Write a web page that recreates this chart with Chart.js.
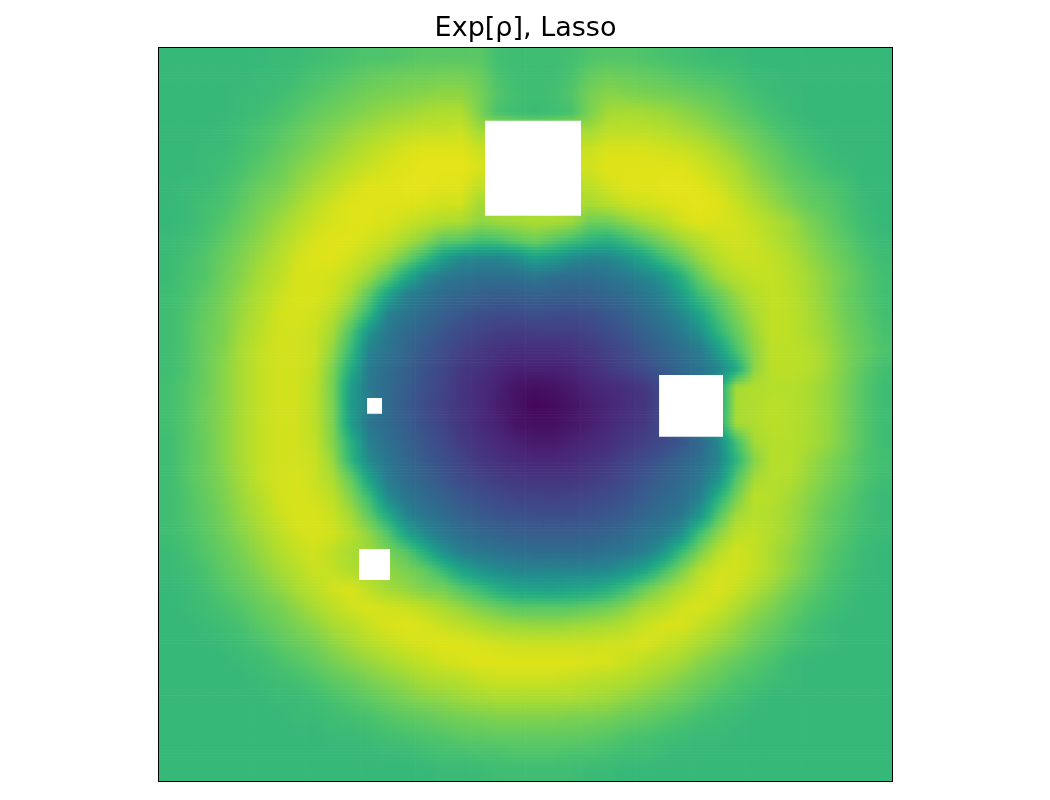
<!DOCTYPE html>
<html><head><meta charset="utf-8">
<script src="https://cdn.jsdelivr.net/npm/chart.js@4/dist/chart.umd.min.js"></script>
<style>html,body{margin:0;padding:0;background:#fff;}canvas{display:block;}</style>
</head><body>
<canvas id="c" width="1050" height="800"></canvas>
<script>
// Heat values (percent of colour range), one array per row, top row first, 40 columns each
const row0  = [67,67,67,67,67,67,68,68,69,70,71,72,72,73,74,74,74,74,70,69,69,69,70,72,73,73,72,71,70,69,68,68,67,67,67,67,67,67,67,67];
const row1  = [67,67,67,67,67,68,68,69,71,72,74,76,77,78,78,79,79,77,71,69,69,69,71,76,78,77,76,75,73,72,71,70,68,68,67,67,67,67,67,67];
const row2  = [67,67,67,67,68,68,69,71,73,75,77,79,80,81,82,83,83,79,73,70,69,70,73,79,82,81,80,79,78,76,75,72,70,68,68,67,67,67,67,67];
const row3  = [67,67,67,67,68,69,71,73,76,78,80,82,84,85,87,88,88,80,71,69,68,69,71,80,86,87,86,85,83,81,78,75,72,70,68,67,67,67,67,67];
const row4  = [67,67,67,68,69,71,73,76,79,81,84,86,88,90,91,91,92,86,88,86,85,86,88,86,90,90,90,89,87,85,82,79,76,72,70,68,67,67,67,67];
const row5  = [67,67,68,68,70,72,75,78,81,84,87,90,92,94,95,95,95,92,92,92,92,92,92,92,94,94,94,93,92,90,87,83,79,76,72,70,68,67,67,67];
const row6  = [67,67,68,69,71,74,77,81,84,87,90,92,94,95,96,96,96,94,94,94,94,94,94,93,95,95,95,95,95,93,90,87,82,78,74,72,69,68,67,67];
const row7  = [67,68,68,70,73,77,79,83,87,90,93,95,95,96,96,95,95,91,90,90,90,90,90,90,93,95,95,96,96,95,93,89,85,81,77,74,72,70,67,67];
const row8  = [67,68,70,71,75,79,82,86,90,93,95,95,95,95,94,93,93,86,88,88,88,88,88,87,89,92,93,94,95,96,95,92,88,84,80,76,74,71,68,67];
const row9  = [67,68,70,73,77,81,85,89,92,94,95,95,94,92,90,88,87,83,85,86,87,87,85,78,78,82,86,89,93,95,94,93,91,88,85,80,76,72,69,67];
const row10 = [68,69,71,75,79,83,87,91,94,95,95,93,91,87,82,75,74,70,71,75,78,74,70,65,63,68,74,80,85,89,92,93,92,89,86,82,78,74,70,68];
const row11 = [68,70,73,77,81,85,89,93,95,95,93,90,85,77,67,55,47,45,45,48,55,53,47,44,45,51,58,68,76,84,89,92,92,91,88,84,80,76,72,69];
const row12 = [68,71,73,78,82,87,90,94,94,93,90,84,74,60,47,40,38,36,36,36,39,36,35,35,38,41,45,51,63,76,85,89,91,91,89,86,82,78,73,70];
const row13 = [69,71,75,79,84,88,92,94,94,92,86,74,57,43,38,34,32,30,29,29,30,30,29,30,32,35,39,45,55,68,76,84,89,91,90,86,82,77,73,70];
const row14 = [69,72,76,80,85,89,93,94,93,89,80,66,44,39,34,30,27,24,23,23,24,23,23,24,27,30,35,40,47,58,71,80,87,91,90,87,83,78,74,70];
const row15 = [69,72,77,80,86,90,93,93,92,86,72,51,40,34,30,26,22,20,18,17,18,18,18,20,23,26,31,35,41,50,65,76,85,91,90,87,84,79,75,71];
const row16 = [69,72,77,81,87,91,93,93,92,83,67,44,38,32,27,23,19,16,14,13,13,13,14,16,19,22,27,31,36,41,54,71,83,90,90,89,85,80,76,72];
const row17 = [69,72,77,82,87,91,93,93,91,80,61,41,35,30,25,21,16,14,11,9,9,9,10,13,16,20,23,28,33,38,45,60,83,90,90,89,85,80,74,70];
const row18 = [70,73,77,82,87,91,93,93,90,79,55,40,34,29,24,20,15,12,9,5,4,5,7,10,12,13,16,22,26,36,57,86,88,89,89,87,84,79,73,69];
const row19 = [70,73,78,82,87,91,93,93,90,80,54,43,34,28,23,19,15,12,8,5,1,3,5,8,10,13,15,22,31,43,57,87,88,90,89,87,84,79,73,69];
const row20 = [70,73,78,82,87,91,93,93,90,80,55,39,34,29,24,20,15,12,9,5,4,4,6,8,11,14,16,23,33,45,60,86,88,90,89,87,84,79,73,69];
const row21 = [69,73,77,82,87,91,93,93,91,81,63,43,36,31,26,22,17,14,11,9,7,7,9,11,13,16,19,22,26,33,45,70,86,89,89,87,84,79,73,69];
const row22 = [69,73,77,82,87,91,93,93,92,84,65,47,39,33,28,24,20,16,14,12,11,11,12,14,16,20,23,27,32,36,45,65,82,89,89,85,81,77,72,70];
const row23 = [69,73,77,81,86,91,93,94,92,87,76,57,41,35,31,27,22,20,17,16,15,15,15,17,19,22,26,30,34,39,50,73,86,89,88,84,80,76,72,69];
const row24 = [69,72,76,80,85,89,93,94,93,90,81,68,48,39,34,31,27,24,22,20,20,19,20,21,23,25,29,33,36,43,63,79,90,89,86,82,78,74,70,68];
const row25 = [69,72,75,79,84,88,92,94,94,92,86,75,61,45,39,35,31,28,26,25,24,24,24,25,27,29,33,36,40,53,73,86,89,88,85,81,76,73,70,68];
const row26 = [69,71,74,78,82,86,90,93,94,93,89,83,73,58,47,40,36,33,31,30,29,29,29,30,31,34,38,41,50,70,82,90,91,88,85,80,76,72,69,68];
const row27 = [68,70,73,76,80,84,88,91,93,90,87,85,80,74,63,51,43,40,38,36,35,35,35,35,38,39,43,53,68,80,89,93,91,87,83,79,74,71,68,67];
const row28 = [68,69,71,75,78,82,86,89,92,91,88,87,83,80,76,68,58,52,48,46,45,46,45,46,47,52,59,70,80,89,93,93,91,87,83,78,73,70,68,67];
const row29 = [67,68,70,73,76,79,83,87,90,93,94,90,86,84,80,79,73,68,62,58,57,56,58,59,63,69,77,83,88,92,94,92,88,84,79,75,71,69,67,67];
const row30 = [67,68,69,71,73,77,79,83,87,90,93,94,93,92,90,87,84,80,77,74,74,74,74,76,78,82,87,89,93,94,92,88,84,80,76,72,70,68,67,67];
const row31 = [67,67,68,69,71,74,77,80,83,87,89,92,94,95,94,92,90,88,86,85,84,84,85,86,87,89,92,94,94,91,88,84,80,77,73,70,68,67,67,67];
const row32 = [67,67,67,68,69,71,74,77,79,83,86,89,91,93,94,95,95,94,93,92,92,92,92,92,93,93,94,92,90,87,84,81,77,74,71,69,68,67,67,67];
const row33 = [67,67,67,67,68,69,71,73,76,79,82,84,87,89,91,93,94,95,95,95,95,95,95,94,94,92,90,88,86,82,79,76,73,71,68,67,67,67,67,67];
const row34 = [67,67,67,67,67,68,69,70,72,75,77,80,82,84,87,88,89,91,92,92,92,92,91,90,89,88,86,84,81,78,76,72,71,69,68,67,67,67,67,67];
const row35 = [67,67,67,67,67,67,68,68,69,71,73,75,78,80,82,83,85,86,87,87,87,87,87,86,85,83,81,79,77,74,71,70,68,67,67,67,67,67,67,67];
const row36 = [67,67,67,67,67,67,67,68,68,69,70,71,73,75,76,78,79,80,81,81,81,81,80,80,79,77,76,74,72,70,69,68,67,67,67,67,67,67,67,67];
const row37 = [67,67,67,67,67,67,67,67,67,68,68,69,70,71,72,73,75,75,76,76,76,76,76,75,74,72,71,70,69,68,68,67,67,67,67,67,67,67,67,67];
const row38 = [67,67,67,67,67,67,67,67,67,67,67,67,68,68,69,70,70,71,71,72,72,72,71,71,70,69,69,68,67,67,67,67,67,67,67,67,67,67,67,67];
const row39 = [67,67,67,67,67,67,67,67,67,67,67,67,67,67,67,68,68,68,69,69,69,69,69,68,68,67,67,67,67,67,67,67,67,67,67,67,67,67,67,67];

const heatRows = [row0,row1,row2,row3,row4,row5,row6,row7,row8,row9,row10,row11,row12,row13,row14,row15,row16,row17,row18,row19,
                  row20,row21,row22,row23,row24,row25,row26,row27,row28,row29,row30,row31,row32,row33,row34,row35,row36,row37,row38,row39];
const colLabels = row0.map((_, i) => String(i));

// Masked (empty) regions, in cell units: left, right, top, bottom
const maskLeft   = [17.79, 27.29, 11.35, 10.91];
const maskRight  = [23.03, 30.78, 12.17, 12.61];
const maskTop    = [3.97, 17.84, 19.10, 27.34];
const maskBottom = [9.15, 21.21, 19.96, 29.03];

const titleText = 'Exp[\u03C1], Lasso';

// ---- rendering helpers (styling only) ----
const NROWS = heatRows.length, NCOLS = row0.length;
const SUB = 6;                       // bilinear shading: strips drawn per data row
const STOPS = [0, 0.25, 0.5, 0.75, 1];

const VIR = [
  [0.000,68,1,84],[0.100,72,37,118],[0.111,72,40,120],[0.125,71,45,123],[0.200,65,68,135],[0.222,62,74,137],
  [0.250,59,82,139],[0.300,53,96,141],[0.333,49,104,142],[0.375,44,114,142],[0.400,42,120,142],[0.444,38,130,142],
  [0.500,33,145,140],[0.556,31,158,137],[0.600,34,168,132],[0.625,40,174,128],[0.667,53,183,121],[0.700,67,191,113],
  [0.750,94,201,98],[0.778,109,205,89],[0.800,122,209,81],[0.875,173,220,48],[0.889,180,222,44],[0.900,187,223,39],
  [0.950,223,227,24],[1.000,253,231,37]
];
function viridis(t) {
  t = Math.max(0, Math.min(1, t));
  for (let k = 1; k < VIR.length; k++) {
    if (t <= VIR[k][0]) {
      const a = VIR[k-1], b = VIR[k];
      const f = (t - a[0]) / (b[0] - a[0]);
      const c = [1,2,3].map(q => Math.round(a[q] + (b[q] - a[q]) * f));
      return 'rgb(' + c.join(',') + ')';
    }
  }
  return 'rgb(253,231,37)';
}
// bilinear shading between cell centres (display only, like imshow interpolation='bilinear')
function shadeAt(x, y) {
  const fx = Math.min(Math.max(x - 0.5, 0), NCOLS - 1);
  const fy = Math.min(Math.max(y - 0.5, 0), NROWS - 1);
  const i0 = Math.floor(fx), j0 = Math.floor(fy);
  const i1 = Math.min(i0 + 1, NCOLS - 1), j1 = Math.min(j0 + 1, NROWS - 1);
  const tx = fx - i0, ty = fy - j0;
  const top = heatRows[j0][i0] * (1 - tx) + heatRows[j0][i1] * tx;
  const bot = heatRows[j1][i0] * (1 - tx) + heatRows[j1][i1] * tx;
  return top * (1 - ty) + bot * ty;
}
function cellFill(chart, i, yc) {
  const sx = chart.scales.xm;
  if (!sx || !chart.chartArea) return viridis(shadeAt(i + 0.5, yc) / 100);
  const p0 = sx.getPixelForValue(i), p1 = sx.getPixelForValue(i + 1);
  const g = chart.ctx.createLinearGradient(p0, 0, p1, 0);
  STOPS.forEach(f => g.addColorStop(f, viridis(shadeAt(i + f, yc) / 100)));
  return g;
}

const heatSets = [];
heatRows.forEach((vals, j) => {
  for (let s = 0; s < SUB; s++) {
    const y0 = j + s / SUB, y1 = j + (s + 1) / SUB, yc = (y0 + y1) / 2;
    heatSets.push({
      type: 'bar',
      data: vals.map(() => [y0, y1]),
      backgroundColor: (ctx) => cellFill(ctx.chart, ctx.dataIndex, yc),
      borderWidth: 0,
      grouped: false,
      barPercentage: 1,
      categoryPercentage: 1,
      order: 1
    });
  }
});

const maskSets = maskLeft.map((x0, k) => ({
  type: 'line',
  xAxisID: 'xm',
  yAxisID: 'y',
  data: [{x: x0, y: maskTop[k]}, {x: maskRight[k], y: maskTop[k]}],
  fill: {value: maskBottom[k]},
  backgroundColor: '#ffffff',
  borderColor: '#ffffff',
  borderWidth: 0,
  pointRadius: 0,
  order: -1
}));

const framePlugin = {
  id: 'frame',
  afterDraw(chart) {
    const {ctx, chartArea: a} = chart;
    ctx.save();
    ctx.strokeStyle = '#000';
    ctx.lineWidth = 1;
    ctx.strokeRect(a.left - 0.5, a.top - 0.5, a.right - a.left + 1, a.bottom - a.top + 1);
    ctx.restore();
  }
};

new Chart(document.getElementById('c'), {
  type: 'bar',
  data: { labels: colLabels, datasets: [...maskSets, ...heatSets] },
  options: {
    responsive: false,
    animation: false,
    devicePixelRatio: 1,
    events: [],
    layout: { padding: { left: 159, right: 158, top: 0, bottom: 19 } },
    plugins: {
      legend: { display: false },
      tooltip: { enabled: false },
      title: {
        display: true, text: titleText, color: '#000',
        font: { family: 'DejaVu Sans', size: 27, weight: 'normal', lineHeight: 1.2 },
        padding: { top: 13, bottom: 2.6 }
      }
    },
    scales: {
      x: { type: 'category', offset: true, display: false, grid: { offset: true } },
      xm: { type: 'linear', axis: 'x', position: 'bottom', min: 0, max: 40, offset: false, display: false },
      y: { type: 'linear', min: 0, max: 40, reverse: true, display: false }
    }
  },
  plugins: [framePlugin]
});
</script>
</body></html>
